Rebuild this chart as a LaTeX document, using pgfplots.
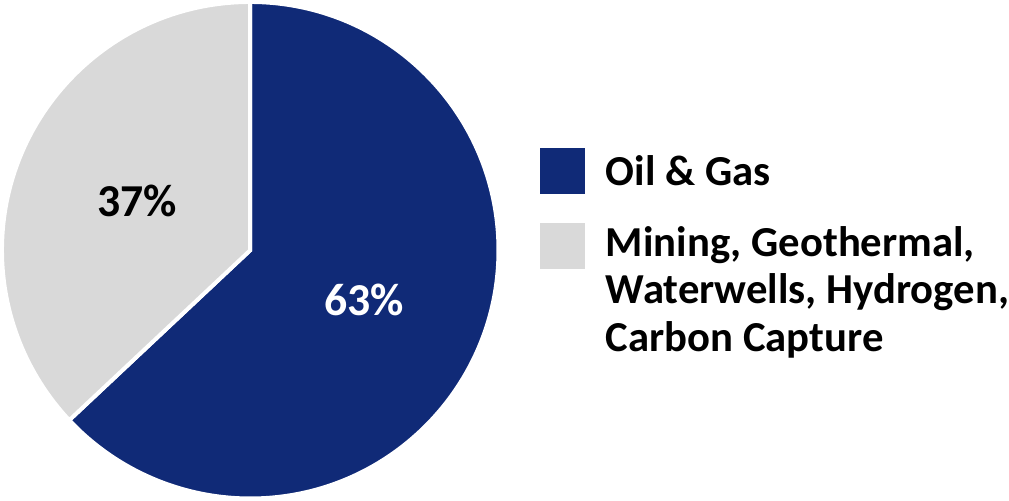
\documentclass[border=0pt]{standalone}
\usepackage{fontspec}
\setmainfont{Carlito}
\usepackage{pgfplots}
\usepackage{pgfplotstable}
\pgfplotsset{compat=1.18}
\definecolor{pieblue}{RGB}{16,42,119}
\definecolor{piegray}{RGB}{217,217,217}
\pgfplotstableread{
label value
OilGas 63
Other 37
}\piedata
\begin{document}
\begin{tikzpicture}
\pgfplotstablegetelem{0}{value}\of\piedata \let\va\pgfplotsretval
\pgfplotstablegetelem{1}{value}\of\piedata \let\vb\pgfplotsretval
\pgfmathsetmacro\angA{90-3.6*\va}
\pgfmathsetmacro\angB{\angA+360}
\pgfmathsetmacro\midA{90-1.8*\va}
\pgfmathsetmacro\midB{90+1.8*\vb}
\pgfmathsetmacro\lax{0.505*cos(\midA)}
\pgfmathsetmacro\lay{0.505*sin(\midA)}
\pgfmathsetmacro\lbx{0.5*cos(\midB)}
\pgfmathsetmacro\lby{0.5*sin(\midB)}
\begin{axis}[
  x=248pt, y=248pt, scale only axis,
  xmin=-1.004, xmax=3.0645, ymin=-1.016, ymax=1.004,
  hide axis, clip=false,
  font=\fontsize{43}{52}\selectfont\bfseries,
]
\path (rel axis cs:0,0) rectangle (rel axis cs:1,1);
\filldraw[fill=pieblue, draw=white, line width=4pt, line join=miter]
  (axis cs:0,0) -- (axis cs:0,1.008)
  arc[start angle=90, end angle=\angA, radius=250pt] -- cycle;
\filldraw[fill=piegray, draw=white, line width=4pt, line join=miter]
  (axis cs:0,0) -- (axis cs:0,1.008)
  arc[start angle=90, end angle=\angB, radius=250pt] -- cycle;
\node[text=white, font=\fontsize{46}{52}\selectfont\bfseries] at (axis cs:\lax,\lay) {\va\%};
\node[text=black, font=\fontsize{46}{52}\selectfont\bfseries] at (axis cs:\lbx,\lby) {\vb\%};
% legend
\node[fill=pieblue, minimum size=46pt, inner sep=0pt] at (axis cs:1.268,0.3226) {};
\node[fill=piegray, minimum size=46pt, inner sep=0pt] at (axis cs:1.268,0.016) {};
\node[anchor=base west, inner sep=0pt] at (axis cs:1.4435,0.262) {Oil \& Gas};
\node[anchor=base west, inner sep=0pt] at (axis cs:1.4435,-0.024) {Mining, Geothermal,};
\node[anchor=base west, inner sep=0pt] at (axis cs:1.4435,-0.2177) {Waterwells, Hydrogen,};
\node[anchor=base west, inner sep=0pt] at (axis cs:1.4435,-0.4113) {Carbon Capture};
\end{axis}
\end{tikzpicture}
\end{document}
